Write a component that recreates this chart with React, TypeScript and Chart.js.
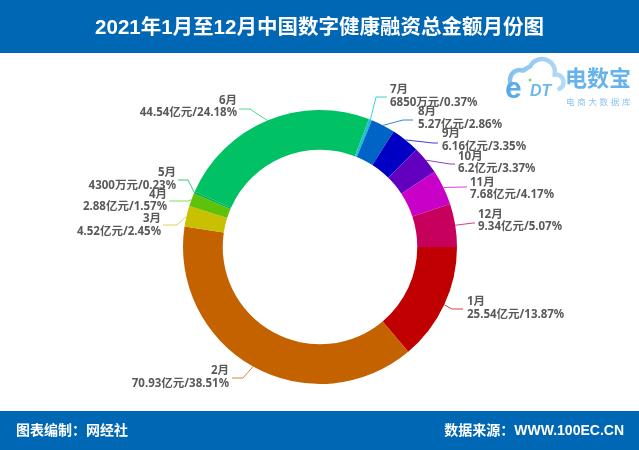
import React, { useEffect, useRef } from "react";
import { Chart, registerables } from "chart.js";

Chart.register(...registerables);

const TITLE = "2021年1月至12月中国数字健康融资总金额月份图";
const FOOTER_LEFT = "图表编制：网经社";
const FOOTER_RIGHT = "数据来源：WWW.100EC.CN";

const months = ["1月", "2月", "3月", "4月", "5月", "6月", "7月", "8月", "9月", "10月", "11月", "12月"];
// amounts in 亿元
const amounts = [25.54, 70.93, 4.52, 2.88, 0.43, 44.54, 0.685, 5.27, 6.16, 6.2, 7.68, 9.34];
const amountLabels = ["25.54亿元", "70.93亿元", "4.52亿元", "2.88亿元", "4300万元", "44.54亿元", "6850万元", "5.27亿元", "6.16亿元", "6.2亿元", "7.68亿元", "9.34亿元"];
const percentLabels = ["13.87%", "38.51%", "2.45%", "1.57%", "0.23%", "24.18%", "0.37%", "2.86%", "3.35%", "3.37%", "4.17%", "5.07%"];
const colors = ["#c00000", "#c46200", "#c8c000", "#5fc20a", "#00b050", "#00c164", "#1ec0d0", "#0063c6", "#0000c4", "#6200c0", "#c800c8", "#c6005c"];
const lineColors = ["#d04040", "#d08a40", "#d8d460", "#8cd65a", "#40c878", "#50d890", "#40d0dc", "#3a86d6", "#4040d6", "#8a40d0", "#d840d8", "#d24088"];

// label placement (layout only)
const labelLayout = [
  { ex: 452, ey: 309, lx: 463, tx: 467, ty: 308.5, align: "left" },
  { ex: 243, ey: 378, lx: 232, tx: 229, ty: 377.5, align: "right" },
  { ex: 177, ey: 225, lx: 163, tx: 161, ty: 225.5, align: "right" },
  { ex: 188, ey: 201, lx: 169, tx: 167, ty: 201, align: "right" },
  { ex: 188, ey: 180, lx: 178, tx: 176, ty: 179.5, align: "right" },
  { ex: 250, ey: 109, lx: 239, tx: 237, ty: 107, align: "right" },
  { ex: 376, ey: 97, lx: 387, tx: 390, ty: 96.5, align: "left" },
  { ex: 403, ey: 120, lx: 413, tx: 418, ty: 118.5, align: "left" },
  { ex: 433, ey: 143, lx: 438, tx: 442, ty: 140.5, align: "left" },
  { ex: 450, ey: 164, lx: 455, tx: 458, ty: 163, align: "left" },
  { ex: 463, ey: 187, lx: 467, tx: 470, ty: 189, align: "left" },
  { ex: 473, ey: 223, lx: 475, tx: 478, ty: 221, align: "left" },
];

const CJK = "'Noto Sans CJK SC'";
const BLUE = "#0067b5";

const framePlugin = {
  id: "frame",
  beforeDraw(chart: any) {
    const ctx = chart.ctx as CanvasRenderingContext2D;
    const W = chart.width;
    const H = chart.height;
    ctx.save();
    ctx.fillStyle = "#ffffff";
    ctx.fillRect(0, 0, W, H);
    // header
    ctx.fillStyle = BLUE;
    ctx.fillRect(0, 0, W, 53);
    ctx.fillStyle = "#ffffff";
    ctx.font = `bold 20.5px 'Liberation Sans', ${CJK}`;
    ctx.textAlign = "center";
    ctx.textBaseline = "middle";
    ctx.fillText(TITLE, W / 2, 28);
    // footer
    ctx.fillStyle = BLUE;
    ctx.fillRect(0, 411, W, H - 411);
    ctx.fillStyle = "#ffffff";
    ctx.font = `bold 14px 'Liberation Sans', ${CJK}`;
    ctx.textAlign = "left";
    ctx.fillText(FOOTER_LEFT, 16, 431);
    ctx.textAlign = "right";
    ctx.fillText(FOOTER_RIGHT, 624, 431);

    // logo cloud
    const grad = ctx.createLinearGradient(505, 0, 565, 0);
    grad.addColorStop(0, "#7fbff0");
    grad.addColorStop(1, "#b4dbf8");
    ctx.strokeStyle = grad;
    ctx.lineWidth = 4.5;
    ctx.lineCap = "round";
    ctx.beginPath();
    ctx.arc(520, 80, 10, Math.PI * 0.85, Math.PI * 1.6);
    ctx.arc(542, 72, 13, Math.PI * 1.15, Math.PI * 1.95);
    ctx.arc(556, 82, 7.5, Math.PI * 1.45, Math.PI * 0.35);
    ctx.stroke();
    ctx.font = "bold 30px 'Liberation Sans'";
    ctx.fillStyle = "#5aaae8";
    ctx.textAlign = "left";
    ctx.textBaseline = "alphabetic";
    ctx.fillText("e", 505, 98);
    ctx.font = "italic bold 16px 'Liberation Sans'";
    ctx.fillStyle = "#6cb8ee";
    ctx.fillText("DT", 530, 96);
    ctx.fillStyle = "#8bd06a";
    ctx.beginPath();
    ctx.arc(530, 80, 1.5, 0, Math.PI * 2);
    ctx.fill();
    ctx.fillStyle = "#66b2ea";
    ctx.font = `bold 22px ${CJK}`;
    ctx.textBaseline = "middle";
    ctx.fillText("电数宝", 565, 78);
    ctx.fillStyle = "#8cc4ee";
    ctx.font = `8.5px ${CJK}`;
    const sub = "电商大数据库";
    for (let i = 0; i < sub.length; i++) {
      ctx.fillText(sub[i], 566 + i * 11.2, 102);
    }
    ctx.restore();
  },
  afterDraw(chart: any) {
    const ctx = chart.ctx as CanvasRenderingContext2D;
    const meta = chart.getDatasetMeta(0);
    ctx.save();
    meta.data.forEach((arc: any, i: number) => {
      const p = arc.getProps(["x", "y", "startAngle", "endAngle", "outerRadius"], true);
      const mid = (p.startAngle + p.endAngle) / 2;
      const ax = p.x + Math.cos(mid) * p.outerRadius;
      const ay = p.y + Math.sin(mid) * p.outerRadius;
      const L = labelLayout[i];
      ctx.strokeStyle = lineColors[i];
      ctx.lineWidth = 1;
      ctx.beginPath();
      ctx.moveTo(ax, ay);
      ctx.lineTo(L.ex, L.ey);
      ctx.lineTo(L.lx, L.ey);
      ctx.stroke();
      ctx.fillStyle = "#595959";
      ctx.font = `bold 11.5px 'Noto Sans', ${CJK}`;
      ctx.textAlign = L.align as CanvasTextAlign;
      ctx.textBaseline = "middle";
      ctx.fillText(months[i], L.tx, L.ty - 6.5);
      ctx.fillText(`${amountLabels[i]}/${percentLabels[i]}`, L.tx, L.ty + 6);
    });
    ctx.restore();
  },
};

export default function App() {
  const ref = useRef<HTMLCanvasElement | null>(null);
  useEffect(() => {
    document.body.style.margin = "0";
    const canvas = ref.current!;
    const chart = new Chart(canvas, {
      type: "doughnut",
      data: {
        labels: months,
        datasets: [
          {
            data: amounts,
            backgroundColor: colors,
            borderWidth: 0,
            hoverOffset: 0,
          },
        ],
      },
      options: {
        responsive: false,
        animation: false,
        devicePixelRatio: 1,
        rotation: 90,
        cutout: "71%",
        layout: { padding: { top: 110, bottom: 66, left: 183, right: 182 } },
        plugins: {
          legend: { display: false },
          tooltip: { enabled: false },
        },
      },
      plugins: [framePlugin],
    });
    return () => chart.destroy();
  }, []);
  return (
    <div style={{ width: 639, height: 450 }}>
      <canvas ref={ref} width={639} height={450} style={{ display: "block" }} />
    </div>
  );
}
